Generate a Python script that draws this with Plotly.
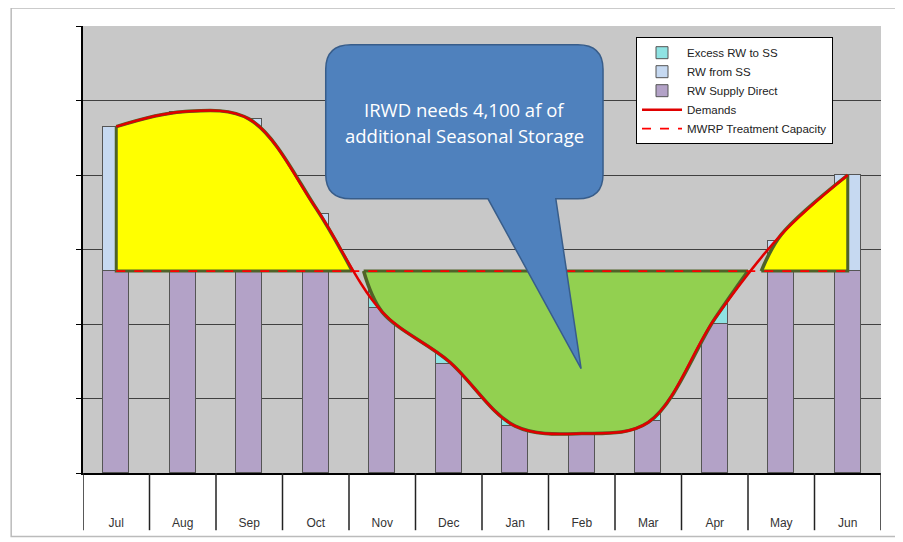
import plotly.graph_objects as go

# months along the x axis (Jul -> Jun water year)
months = ['Jul', 'Aug', 'Sep', 'Oct', 'Nov', 'Dec', 'Jan', 'Feb', 'Mar', 'Apr', 'May', 'Jun']

# values, in grid units (one gridline = 1)
demands = [4.65, 4.85, 4.75, 3.56, 2.16, 1.50, 0.63, 0.53, 0.68, 2.07, 3.20, 4.00]
mwrp_capacity = 2.71
rw_supply_direct = [2.71, 2.71, 2.71, 2.71, 2.22, 1.46, 0.63, 0.54, 0.70, 2.00, 2.71, 2.71]
rw_from_ss = [1.94, 2.14, 2.04, 0.77, 0, 0, 0, 0, 0, 0, 0.41, 1.29]
excess_rw_to_ss = [0, 0, 0, 0, 0.49, 1.25, 2.08, 2.17, 2.01, 0.71, 0, 0]

# where the hand drawn surplus / storage areas start and end (month index)
surplus1_end = 3.55
storage_start, storage_end = 3.72, 9.50
surplus2_start = 9.70

x = list(range(len(months)))
cap = mwrp_capacity
olive = '#4f6228'

fig = go.Figure()

# stacked bars
bar_line = dict(color='#555555', width=1)
fig.add_trace(go.Bar(x=x, y=rw_supply_direct, name='RW Supply Direct', width=0.39,
                     marker=dict(color='#b3a2c7', line=bar_line), legendrank=3))
fig.add_trace(go.Bar(x=x, y=rw_from_ss, name='RW from SS', width=0.39,
                     marker=dict(color='#c6d9f1', line=bar_line), legendrank=2))
fig.add_trace(go.Bar(x=x, y=excess_rw_to_ss, name='Excess RW to SS', width=0.39,
                     marker=dict(color='#8fe3e3', line=bar_line), legendrank=1))

# yellow area (summer surplus demand, Jul-Oct)
fig.add_trace(go.Scatter(x=[0, 0, surplus1_end], y=[demands[0], cap, cap], mode='lines',
                         line=dict(color=olive, width=3), showlegend=False, hoverinfo='skip'))
fig.add_trace(go.Scatter(x=x[:4] + [surplus1_end], y=demands[:4] + [cap], mode='lines',
                         line=dict(color=olive, width=3.5, shape='spline'),
                         fill='tonexty', fillcolor='#ffff00', showlegend=False, hoverinfo='skip'))

# green area (winter storage)
fig.add_trace(go.Scatter(x=[storage_start, storage_end], y=[cap, cap], mode='lines',
                         line=dict(color=olive, width=3), showlegend=False, hoverinfo='skip'))
fig.add_trace(go.Scatter(x=[storage_start] + x[4:10] + [storage_end],
                         y=[cap] + demands[4:10] + [cap], mode='lines',
                         line=dict(color=olive, width=3.5, shape='spline'),
                         fill='tonexty', fillcolor='#92d050', showlegend=False, hoverinfo='skip'))

# yellow area (May-Jun)
fig.add_trace(go.Scatter(x=[surplus2_start, 11, 11], y=[cap, cap, demands[11]], mode='lines',
                         line=dict(color=olive, width=3), showlegend=False, hoverinfo='skip'))
fig.add_trace(go.Scatter(x=[surplus2_start] + x[10:], y=[cap] + demands[10:], mode='lines',
                         line=dict(color=olive, width=3.5, shape='spline'),
                         fill='tonexty', fillcolor='#ffff00', showlegend=False, hoverinfo='skip'))

# lines
fig.add_trace(go.Scatter(x=[0, 11], y=[cap, cap], mode='lines', name='MWRP Treatment Capacity',
                         line=dict(color='#ff0000', width=1.8, dash='dash'), legendrank=5))
fig.add_trace(go.Scatter(x=x, y=demands, mode='lines', name='Demands',
                         line=dict(color='#e00000', width=2.5, shape='spline', smoothing=1),
                         legendrank=4))

shapes = []
# table lines below the plot
for b in [i + 0.5 for i in range(-1, 12)]:
    shapes.append(dict(type='line', xref='x', yref='paper', x0=b, x1=b, y0=0, y1=-0.128,
                       line=dict(color='#222222', width=1.5)))
# outer frame
shapes.append(dict(type='rect', xref='paper', yref='paper', x0=-0.09, x1=1.02,
                   y0=-0.142, y1=1.04, line=dict(color='#bbbbbb', width=1.5), layer='below'))

# callout bubble
bx0, bx1, by0, by1 = 3.15, 7.32, 3.68, 5.75
rx, ry = 0.38, 0.33
tl, tr, tipx, tipy = 5.59, 6.61, 6.99, 1.40
path = (f'M {bx0+rx},{by1} L {bx1-rx},{by1} Q {bx1},{by1} {bx1},{by1-ry} '
        f'L {bx1},{by0+ry} Q {bx1},{by0} {bx1-rx},{by0} L {tr},{by0} L {tipx},{tipy} '
        f'L {tl},{by0} L {bx0+rx},{by0} Q {bx0},{by0} {bx0},{by0+ry} '
        f'L {bx0},{by1-ry} Q {bx0},{by1} {bx0+rx},{by1} Z')
shapes.append(dict(type='path', xref='x', yref='y', path=path, fillcolor='#4f81bd',
                   line=dict(color='#385d8a', width=1.5), layer='above'))

txt_font = dict(family='Open Sans', size=18.5, color='white')
annotations = [
    dict(x=5.23, y=4.88, xref='x', yref='y', text='IRWD needs 4,100 af of',
         showarrow=False, font=txt_font),
    dict(x=5.23, y=4.53, xref='x', yref='y', text='additional Seasonal Storage',
         showarrow=False, font=txt_font),
]

# page body has an 8px margin, so the figure is a bit smaller than the window
fig.update_layout(
    width=895, height=534,
    margin=dict(l=75, r=22, t=18, b=67),
    barmode='stack', bargap=0,
    paper_bgcolor='white', plot_bgcolor='#c8c8c8',
    font=dict(family='Liberation Sans, Arial', color='#333333'),
    shapes=shapes, annotations=annotations,
    legend=dict(x=0.693, y=0.975, xanchor='left', yanchor='top', bgcolor='white',
                bordercolor='black', borderwidth=1, traceorder='normal', itemwidth=40,
                font=dict(size=11.5, color='#222222'), tracegroupgap=0),
    xaxis=dict(range=[-0.5, 11.5], tickvals=x, ticktext=months, showgrid=False,
               zeroline=False, showline=True, linecolor='black', linewidth=1.5,
               ticks='', ticklabelstandoff=38, tickfont=dict(size=12, color='#333333')),
    yaxis=dict(range=[0, 6], tickvals=[0, 1, 2, 3, 4, 5, 6], showticklabels=False,
               showgrid=True, gridcolor='#404040', gridwidth=1.2, zeroline=False,
               showline=True, linecolor='black', linewidth=1.5, ticks='outside',
               ticklen=5, tickcolor='black'),
)

fig.write_html('out.html')
